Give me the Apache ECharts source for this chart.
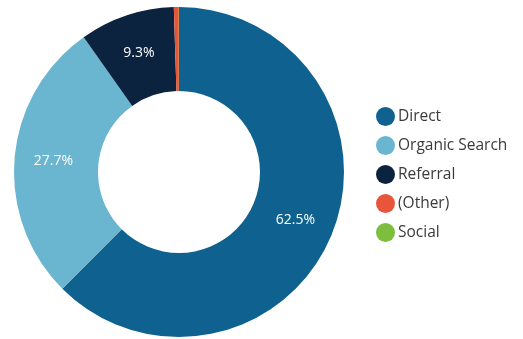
<!DOCTYPE html>
<html>
<head>
<meta charset="utf-8">
<script src="https://cdn.jsdelivr.net/npm/echarts@6/dist/echarts.min.js"></script>
<style>
  html, body { margin: 0; padding: 0; background: #fff; }
  #chart { width: 523px; height: 339px; }
</style>
</head>
<body>
<div id="chart"></div>
<script>
// Traffic sources share (percent)
const channels = ['Direct', 'Organic Search', 'Referral', '(Other)', 'Social'];
const shares = [62.5, 27.7, 9.3, 0.48, 0.02];
const colors = ['#0f628f', '#6ab5cf', '#0c2340', '#e8553a', '#7dbe3c'];

const chart = echarts.init(document.getElementById('chart'));
chart.setOption({
  animation: false,
  color: colors,
  legend: {
    orient: 'vertical',
    left: 371,
    top: 102,
    icon: 'circle',
    itemWidth: 19,
    itemHeight: 19,
    itemGap: 10,
    textStyle: { fontFamily: 'Open Sans', fontSize: 15.5, color: '#3a3a3a', padding: [0, 0, 0, -2] },
    data: channels
  },
  series: [{
    type: 'pie',
    center: [179, 172],
    radius: [81, 165],
    startAngle: 90,
    clockwise: true,
    avoidLabelOverlap: false,
    label: {
      show: true,
      position: 'inside',
      color: '#ffffff',
      fontFamily: 'Open Sans',
      fontSize: 14,
      formatter: p => (p.value >= 1 ? p.value.toFixed(1) + '%' : '')
    },
    labelLine: { show: false },
    itemStyle: { borderWidth: 0 },
    emphasis: { disabled: true },
    data: channels.map((c, i) => ({ name: c, value: shares[i] }))
  }]
});
</script>
</body>
</html>
